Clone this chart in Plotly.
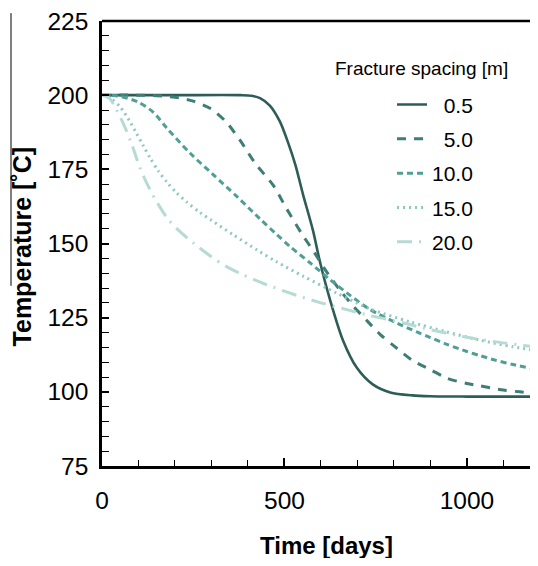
import plotly.graph_objects as go

# ---- data ----
labels = ["\u00a0\u00a00.5", "\u00a0\u00a05.0", "10.0", "15.0", "20.0"]

t_05 = [0, 200, 380, 410, 433, 460, 488, 510, 530, 551, 578, 597, 625, 660, 699, 742, 790, 850, 900, 1000, 1100, 1200]
T_05 = [200, 200, 200, 199.8, 199, 196.5, 191, 184, 176.5, 166.5, 154.5, 144, 131, 117.5, 108, 102.5, 99.8, 98.8, 98.5, 98.4, 98.4, 98.4]

t_5 = [0, 100, 150, 200, 250, 300, 340, 380, 420, 470, 507, 548, 584, 611, 652, 688, 726, 762, 800, 852, 900, 945, 1000, 1036, 1100, 1145, 1200]
T_5 = [200, 200, 199.8, 199.3, 198, 195.3, 191, 184.5, 177, 169.5, 161.5, 153.2, 146.6, 141.3, 134.3, 129, 124, 119.4, 115.5, 110.5, 107.5, 104.6, 102.8, 102, 100.6, 100, 99.4]

t_10 = [0, 50, 100, 140, 177, 241, 304, 370, 433, 479, 515, 570, 625, 679, 734, 808, 863, 900, 945, 1000, 1036, 1080, 1126, 1200]
T_10 = [200, 199.6, 197.6, 194.3, 189, 180.5, 173.3, 165.8, 158.3, 153, 149, 143.5, 137.8, 132.6, 127.8, 123.2, 120.2, 118.3, 116, 113.6, 112.2, 110.6, 109.2, 107.3]

t_15 = [0, 25, 50, 77, 95, 113, 132, 154, 177, 205, 232, 268, 300, 359, 425, 479, 551, 643, 734, 844, 945, 1036, 1126, 1200]
T_15 = [200, 198.8, 196, 191, 187, 183, 178.8, 174.5, 170.8, 167, 164, 160.5, 157.8, 153, 147.8, 143.8, 139, 133.3, 128, 123.6, 120.2, 117.4, 115.2, 113.7]

t_20 = [0, 20, 40, 60, 80, 104, 132, 160, 181, 205, 249, 300, 340, 386, 441, 534, 600, 671, 734, 825, 880, 1000, 1100, 1200]
T_20 = [200, 199, 195, 190, 184, 175.5, 168, 162, 158.2, 155, 150.3, 145.5, 142.3, 139.5, 136.6, 132.5, 130, 127.7, 125.7, 123.3, 121.5, 118.4, 116.5, 115]

series_t = [t_05, t_5, t_10, t_15, t_20]
series_T = [T_05, T_5, T_10, T_15, T_20]

x_ticks = [0, 500, 1000]
y_ticks = [75, 100, 125, 150, 175, 200, 225]

# ---- styles ----
colors = ["#2e5c58", "#3f7d77", "#509f97", "#8ec8c0", "#b6dbd5"]
dashes = ["solid", "9px,8px", "6px,4px", "2px,4px", "15px,7px,2px,7px"]
widths = [2.6, 3, 3, 3, 3]

FONT = "Liberation Sans, Arial, sans-serif"

fig = go.Figure()
for i in range(5):
    fig.add_trace(go.Scatter(
        x=series_t[i], y=series_T[i], mode="lines", name=labels[i],
        legendgroup=str(i),
        line=dict(color=colors[i], width=widths[i], dash=dashes[i], shape="spline", smoothing=0.8),
    ))

fig.update_layout(
    width=522, height=550,
    margin=dict(l=94, r=0, t=6, b=92),
    paper_bgcolor="white", plot_bgcolor="white",
    font=dict(family=FONT, color="black", size=24),
    showlegend=True,
    legend=dict(
        x=0.6776, y=0.8575, xanchor="left", yanchor="top",
        font=dict(size=21, family=FONT, color="black"),
        bgcolor="rgba(0,0,0,0)", tracegroupgap=4, itemwidth=30,
    ),
    xaxis=dict(
        range=[0, 1173], tickvals=x_ticks, ticktext=[str(v) for v in x_ticks],
        showline=True, linecolor="black", linewidth=2.5,
        ticks="inside", ticklen=8, tickwidth=1.5, tickcolor="black",
        minor=dict(dtick=100, ticks="inside", ticklen=6, tickwidth=1.2, tickcolor="black"),
        showgrid=False, zeroline=False, ticklabeloverflow="allow",
        tickfont=dict(size=24.5), ticklabelstandoff=11,
    ),
    yaxis=dict(
        range=[75, 225], tickvals=y_ticks, ticktext=[str(v) for v in y_ticks],
        showline=True, linecolor="black", linewidth=2.5,
        ticks="inside", ticklen=7, tickwidth=1.5, tickcolor="black",
        minor=dict(dtick=5, ticks="inside", ticklen=7, tickwidth=1.2, tickcolor="black"),
        showgrid=False, zeroline=False, ticklabeloverflow="allow",
        tickfont=dict(size=24.5), ticklabelstandoff=6,
    ),
    shapes=[
        dict(type="line", xref="paper", yref="paper", x0=0, x1=1, y0=1, y1=1,
             line=dict(color="black", width=2.5)),
        dict(type="line", xref="paper", yref="paper", x0=-0.2126, x1=-0.2126, y0=1.0177, y1=0.4049,
             line=dict(color="black", width=1)),
    ],
    annotations=[
        dict(text="<b>Time [days]</b>", xref="paper", yref="paper", x=0.5234, y=-0.1792,
             xanchor="center", yanchor="middle", showarrow=False, font=dict(size=24)),
        dict(text="<b>Temperature [˚C]</b>", xref="paper", yref="paper", x=-0.1869, y=0.4934,
             xanchor="center", yanchor="middle", textangle=-90, showarrow=False, font=dict(size=25)),
        dict(text="Fracture spacing [m]", xref="paper", yref="paper", x=0.5397, y=0.8938,
             xanchor="left", yanchor="middle", showarrow=False, font=dict(size=19)),
    ],
)

fig.write_html("out.html")
